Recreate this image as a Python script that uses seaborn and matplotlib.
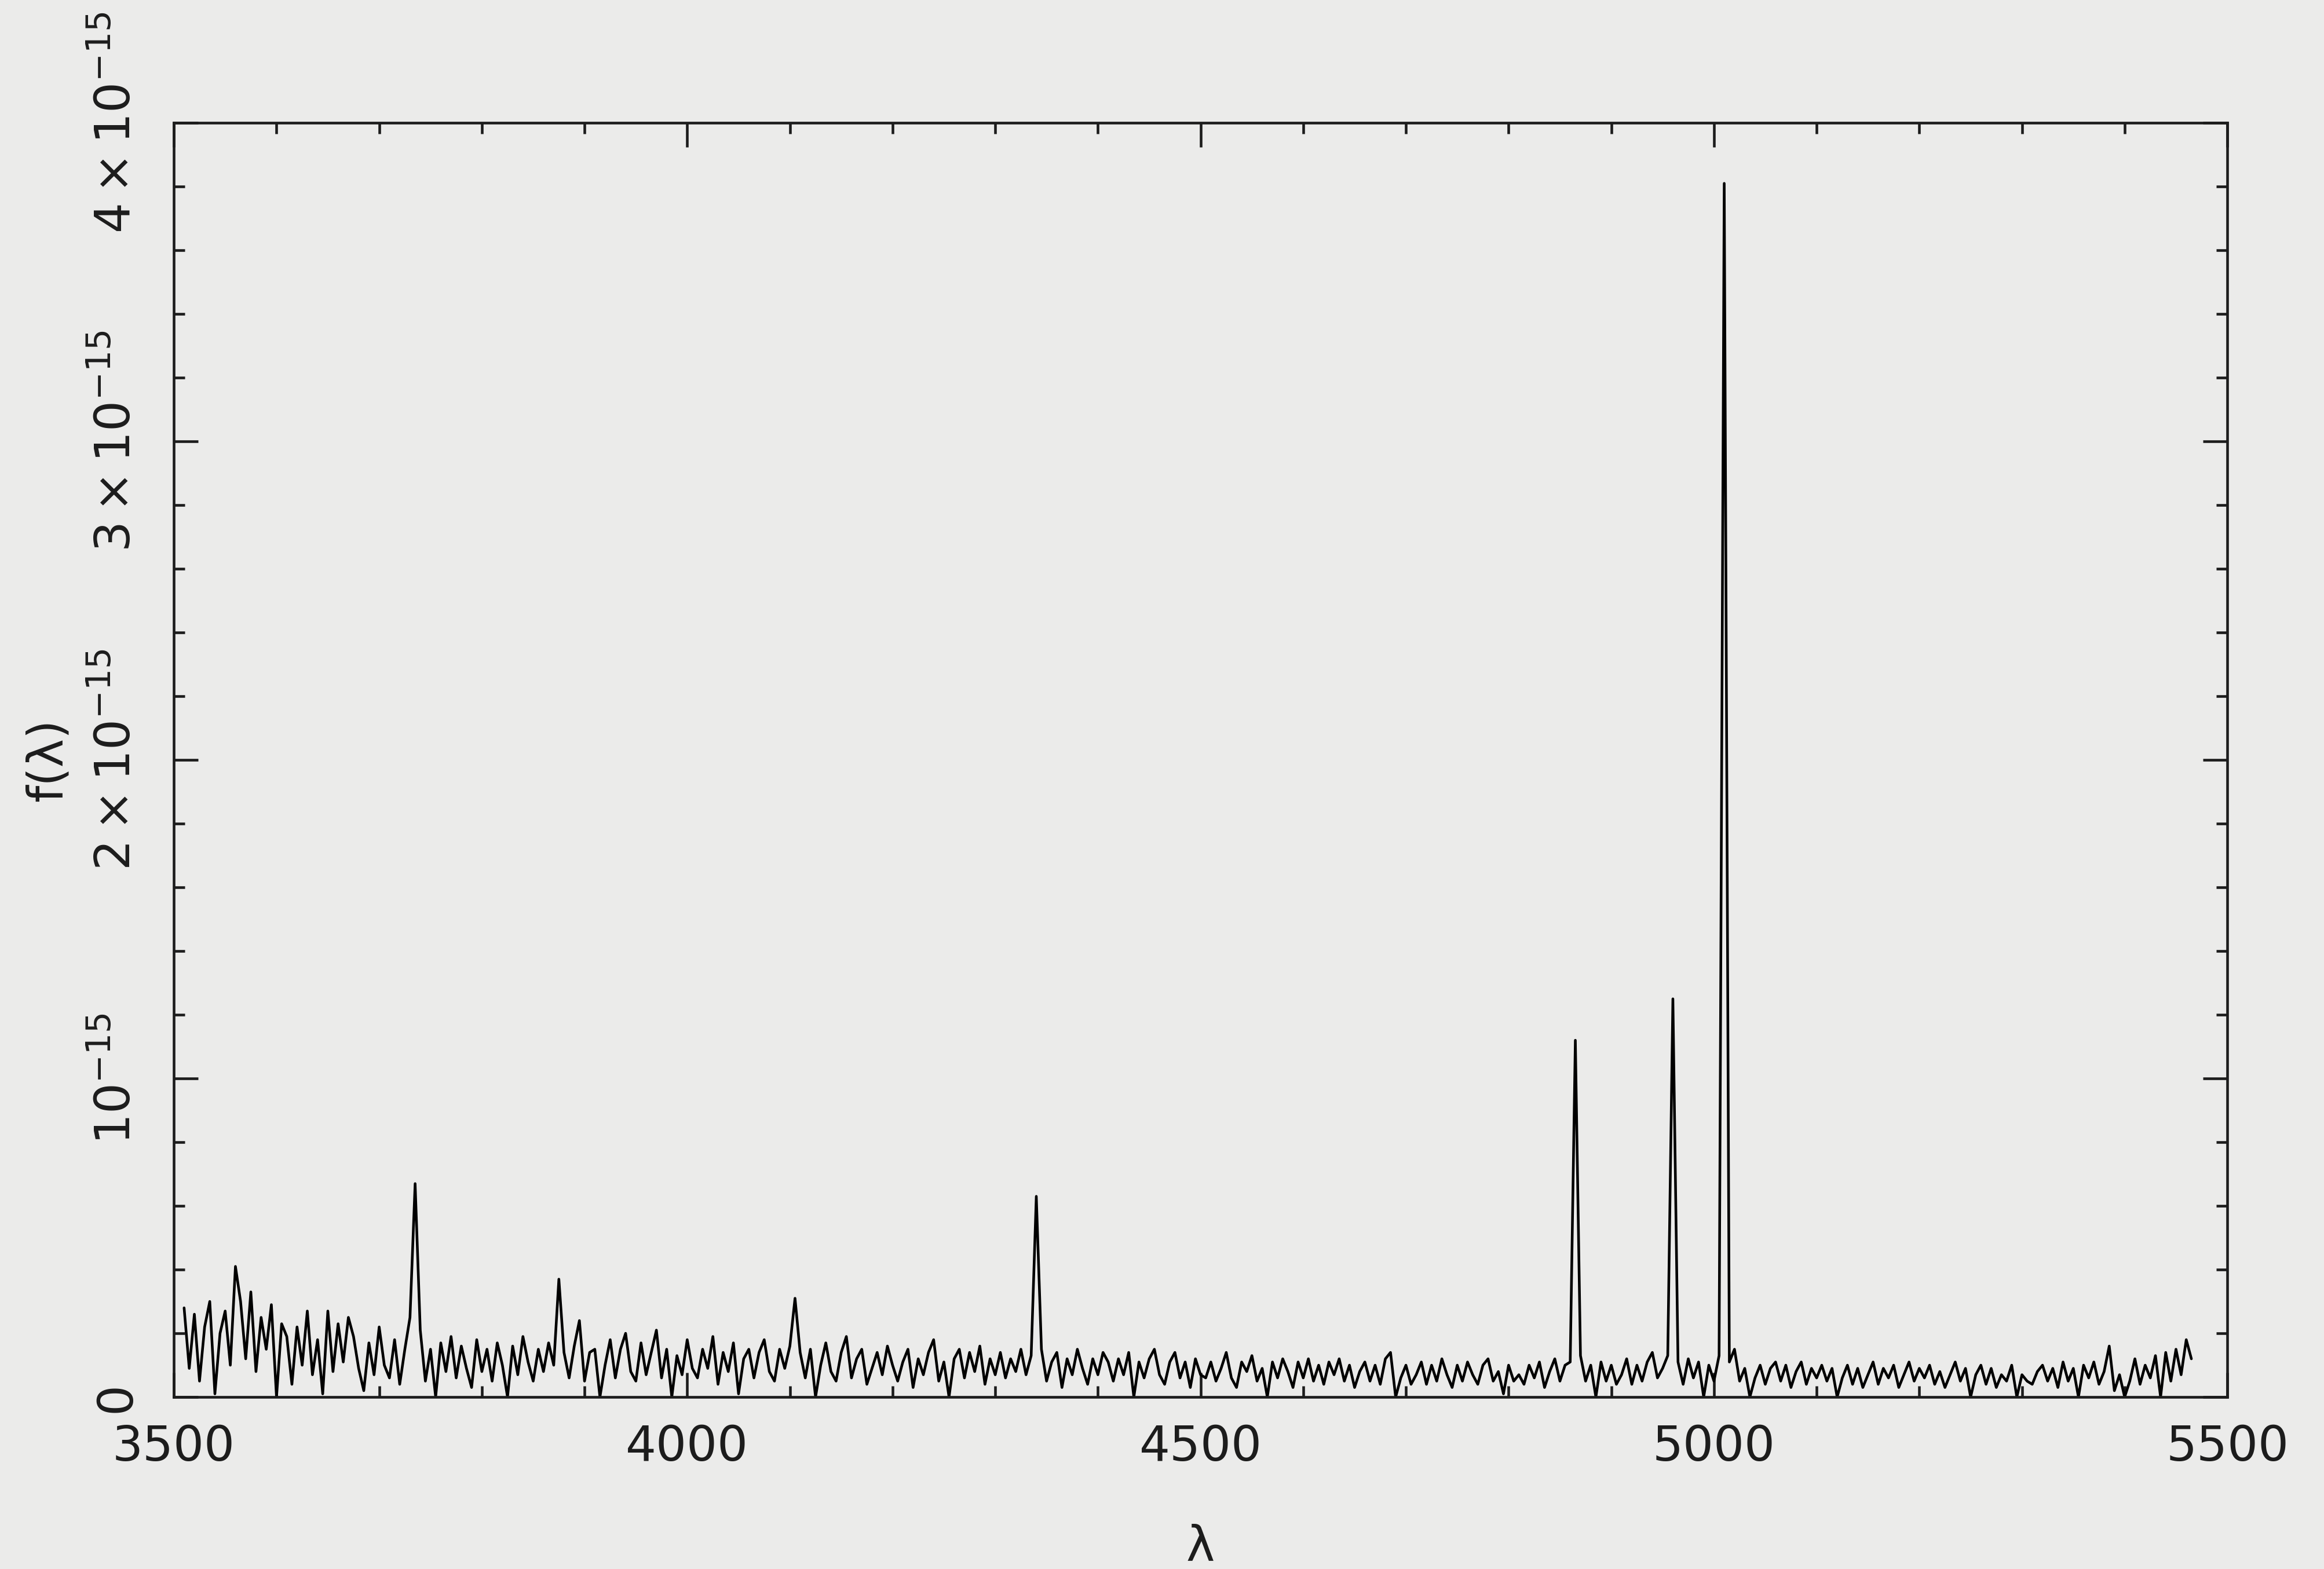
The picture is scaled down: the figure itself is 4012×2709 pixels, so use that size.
import numpy as np
import pandas as pd
import matplotlib
matplotlib.use('Agg')
import matplotlib.pyplot as plt
import seaborn as sns
from matplotlib.ticker import MultipleLocator

# -----------------------------
#   spectrum
# -----------------------------
wave_start = 3510   # Angstrom, first sample
wave_step = 5       # Angstrom between samples

# flux in units of 1e-15, one row per 100 A (3510-3605, 3610-3705, ...)
flux_rows = [
    [.28, .09, .26, .05, .22, .30, .01, .20, .27, .10, .41, .30, .12, .33, .08, .25, .15, .29, .00, .23],
    [.19, .04, .22, .10, .27, .07, .18, .01, .27, .08, .23, .11, .25, .19, .09, .02, .17, .07, .22, .10],
    [.06, .18, .04, .15, .25, .67, .21, .05, .15, .00, .17, .08, .19, .06, .16, .09, .03, .18, .08, .15],
    [.05, .17, .10, .00, .16, .07, .19, .11, .05, .15, .08, .17, .10, .37, .14, .06, .16, .24, .05, .14],
    [.15, .00, .10, .18, .06, .15, .20, .08, .05, .17, .07, .14, .21, .06, .15, .00, .13, .07, .18, .09],
    [.06, .15, .09, .19, .04, .14, .08, .17, .01, .12, .15, .06, .14, .18, .08, .05, .15, .09, .16, .31],
    [.14, .06, .15, .00, .10, .17, .08, .05, .14, .19, .06, .12, .15, .04, .09, .14, .07, .16, .10, .05],
    [.11, .15, .03, .12, .07, .14, .18, .05, .11, .00, .12, .15, .06, .14, .08, .16, .04, .12, .07, .14],
    [.06, .12, .08, .15, .07, .13, .63, .15, .05, .11, .14, .03, .12, .07, .15, .09, .04, .12, .07, .14],
    [.11, .05, .12, .07, .14, .00, .11, .06, .12, .15, .07, .04, .11, .14, .06, .11, .03, .12, .07, .06],
    [.11, .05, .09, .14, .06, .03, .11, .08, .13, .05, .09, .00, .11, .06, .12, .08, .03, .11, .06, .12],
    [.05, .10, .04, .11, .07, .12, .05, .10, .03, .08, .11, .05, .10, .04, .12, .14, .00, .06, .10, .04],
    [.07, .11, .04, .10, .05, .12, .07, .03, .10, .05, .11, .07, .04, .10, .12, .05, .08, .01, .10, .05],
    [.07, .04, .10, .06, .11, .03, .08, .12, .05, .10, .11, 1.12, .13, .05, .10, .00, .11, .05, .10, .04],
    [.07, .12, .04, .10, .05, .11, .14, .06, .09, .13, 1.25, .11, .04, .12, .06, .11, .00, .10, .05, .13],
    [3.81, .11, .15, .05, .09, .00, .06, .10, .04, .09, .11, .05, .10, .03, .08, .11, .04, .09, .06, .10],
    [.05, .09, .00, .06, .10, .04, .09, .03, .07, .11, .04, .09, .06, .10, .03, .07, .11, .05, .09, .06],
    [.10, .04, .08, .03, .07, .11, .05, .09, .00, .07, .10, .04, .09, .03, .07, .05, .10, .00, .07, .05],
    [.04, .08, .10, .05, .09, .03, .11, .05, .09, .00, .10, .06, .11, .04, .08, .16, .02, .07, .00, .05],
    [.12, .04, .10, .06, .13, .00, .14, .05, .15, .07, .18, .12],
]

x_ticks = [3500, 4000, 4500, 5000, 5500]
x_ticklabels = ['3500', '4000', '4500', '5000', '5500']
y_ticks = [0, 1e-15, 2e-15, 3e-15, 4e-15]
y_ticklabels = ['0', r'$10^{-15}$', r'$2\times10^{-15}$', r'$3\times10^{-15}$', r'$4\times10^{-15}$']

flux = np.concatenate([np.array(r) for r in flux_rows])
wave = wave_start + wave_step * np.arange(len(flux))
df = pd.DataFrame({'wave': wave, 'flux': flux * 1e-15})

# -----------------------------
#   estilo
# -----------------------------
paper = '#ebebea'
ink = '#1c1c1c'
sns.set_theme(style='ticks', rc={'axes.facecolor': paper, 'figure.facecolor': paper})
plt.rcParams['font.family'] = ['DejaVu Sans']
plt.rcParams['mathtext.fontset'] = 'dejavusans'

fig = plt.figure(figsize=(4012 / 300, 2709 / 300), dpi=300)
ax = fig.add_axes([0.0748, 0.1096, 0.8836, 0.8121])

sns.lineplot(data=df, x='wave', y='flux', ax=ax, color='black', linewidth=1.1)

ax.set_xlim(3507, 5500)
ax.set_ylim(0, 4e-15)

ax.set_xticks(x_ticks)
ax.set_xticklabels(x_ticklabels, fontsize=20, color=ink)
ax.set_yticks(y_ticks)
ax.set_yticklabels(y_ticklabels, fontsize=20, color=ink, rotation=90, va='center')
ax.xaxis.set_minor_locator(MultipleLocator(100))
ax.yaxis.set_minor_locator(MultipleLocator(0.2e-15))

ax.tick_params(which='both', direction='in', top=True, right=True, color=ink, width=1.1)
ax.tick_params(which='major', length=10)
ax.tick_params(which='minor', length=4.5)
ax.tick_params(axis='x', which='major', pad=11)
ax.tick_params(axis='y', which='major', pad=14)

for s in ax.spines.values():
    s.set_color(ink)
    s.set_linewidth(1.1)

ax.set_xlabel('λ', fontsize=20, color=ink, labelpad=22)
ax.set_ylabel('f(λ)', fontsize=20, color=ink, labelpad=9)

fig.savefig('out.png', dpi=300, facecolor=paper)
